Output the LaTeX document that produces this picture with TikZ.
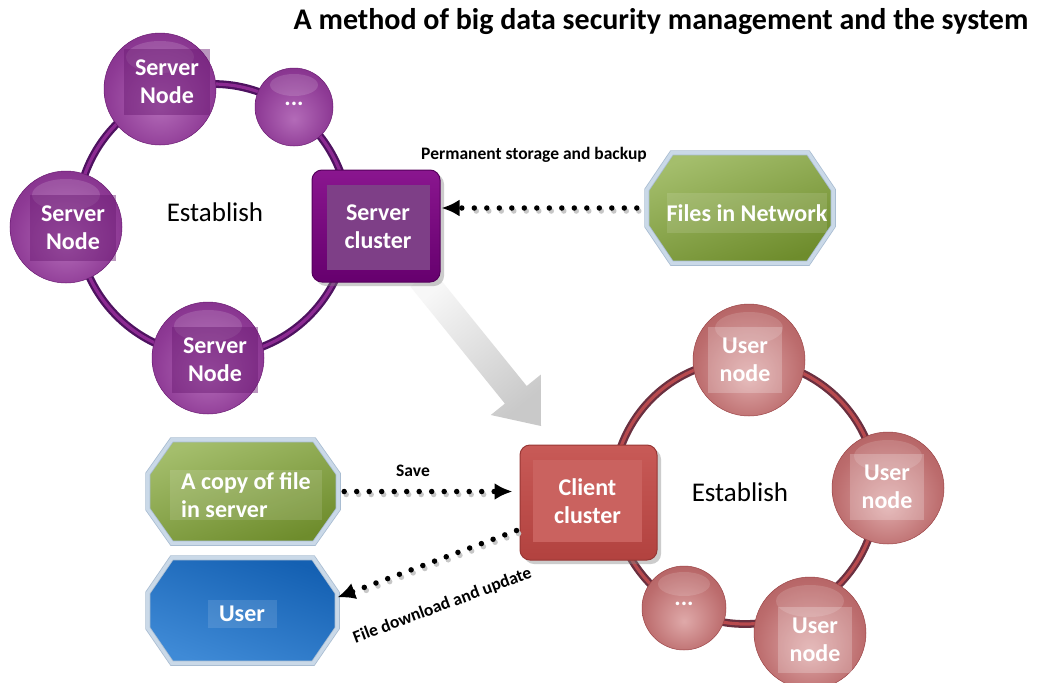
\documentclass[tikz,border=0pt]{standalone}
\usepackage{fontspec}
\setmainfont{Carlito}
\usetikzlibrary{shadows,arrows.meta,calc}
\definecolor{pbD}{HTML}{6A1A72}
\definecolor{pbM}{HTML}{8E3A95}
\definecolor{pbL}{HTML}{B36BB8}
\definecolor{rbD}{HTML}{9C4547}
\definecolor{rbM}{HTML}{BC6C6D}
\definecolor{rbL}{HTML}{DFA9A9}
\definecolor{ringP}{HTML}{4E1260}
\definecolor{ringPL}{HTML}{8C2A92}
\definecolor{ringR}{HTML}{6A3040}
\definecolor{ringRL}{HTML}{B84A4E}
\definecolor{scT}{HTML}{8A168F}
\definecolor{scB}{HTML}{66006E}
\definecolor{scE}{HTML}{55005C}
\definecolor{scI}{HTML}{7E3F87}
\definecolor{ccT}{HTML}{C85A57}
\definecolor{ccB}{HTML}{B2423F}
\definecolor{ccE}{HTML}{983735}
\definecolor{ccI}{HTML}{CA625F}
\definecolor{gT}{HTML}{A4BE6C}
\definecolor{gB}{HTML}{6E8C2C}
\definecolor{bT}{HTML}{3F8AD6}
\definecolor{bB}{HTML}{1460B2}
\definecolor{octE}{HTML}{A9BDD2}
\definecolor{octD}{HTML}{CAD9E8}
\pgfdeclareradialshading{purpleball}{\pgfpoint{0bp}{-8bp}}{color(0bp)=(pbL); color(24bp)=(pbM); color(50bp)=(pbD)}
\pgfdeclareradialshading{redball}{\pgfpoint{0bp}{-8bp}}{color(0bp)=(rbL); color(24bp)=(rbM); color(50bp)=(rbD)}
\newcommand\octpath[3]{($(#1.north west)+(#2,0)$) -- ($(#1.north east)+(-#2,0)$) -- ($(#1.north east)+(0,#3)$) -- ($(#1.south east)+(0,-#3)$) -- ($(#1.south east)+(-#2,0)$) -- ($(#1.south west)+(#2,0)$) -- ($(#1.south west)+(0,-#3)$) -- ($(#1.north west)+(0,#3)$) -- cycle}
\begin{document}
\begin{tikzpicture}[x=1pt,y=-1pt,
  lbl/.style={font=\bfseries\fontsize{24}{28}\selectfont, text=white, align=center},
  pball/.style={circle, inner sep=0pt, shading=purpleball, draw=pbD, line width=0.5pt},
  rball/.style={circle, inner sep=0pt, shading=redball, draw=rbD, line width=0.5pt},
  glare/.style={white, opacity=0.14},
  ptxt/.style={lbl, fill=pbD, fill opacity=0.45, text opacity=1, inner sep=0pt, minimum width=86pt, minimum height=66pt},
  rtxt/.style={lbl, fill=white, fill opacity=0.22, text opacity=1, inner sep=0pt, minimum width=74pt, minimum height=66pt},
  obox/.style={rectangle, inner sep=0pt},
  octo/.style={draw=octE, line width=0.8pt, double=octD, double distance=3.5pt},
  gocto/.style={octo, top color=gT, bottom color=gB, shading angle=20},
  bocto/.style={octo, top color=bB, bottom color=bT, shading angle=-20},
  otxt/.style={lbl, fill=white, fill opacity=0.12, text opacity=1, inner sep=0pt},
  dotl/.style={line width=5.5pt, line cap=round, dash pattern=on 0pt off 12.5pt},
  tip/.style={-{Latex[length=18pt,width=17pt]}},
  small/.style={font=\bfseries\fontsize{17.5}{21}\selectfont}
]
\useasboundingbox (0,0) rectangle (1037,683);
\fill[white] (0,0) rectangle (1037,683);

% title
\node[font=\bfseries\fontsize{30}{36}\selectfont] (title) at (661,22) {A method of big data security management and the system};

% rings
\node[circle, minimum size=272pt, inner sep=0pt, draw=ringP, line width=2.3pt, double=ringPL, double distance=3.2pt] (sring) at (213,220) {};
\node[circle, minimum size=264pt, inner sep=0pt, draw=ringR, line width=2.3pt, double=ringRL, double distance=3.2pt] (cring) at (745,492) {};

\node[font=\fontsize{27}{32}\selectfont] (est1) at (215,212) {Establish};
\node[font=\fontsize{27}{32}\selectfont] (est2) at (740,492) {Establish};

% gray arrow
\coordinate (gaS) at (421,278);
\coordinate (gaT) at (541,426);
\shade[top color=gray!6, bottom color=gray!42, shading angle=39]
  (432,269) -- (526.7,386) -- (540.8,374.6) -- (gaT) -- (490.8,415) -- (504.9,403.6) -- (410.4,286.6) -- cycle;

% server nodes
\node[pball, minimum size=112pt] (sn1) at (160,89) {};
\fill[glare] ($(sn1)+(0,-32)$) ellipse (34 and 16);
\node[ptxt] (sn1t) at (167,82) {Server\\Node};
\node[pball, minimum size=112pt] (sn2) at (66,227) {};
\fill[glare] ($(sn2)+(0,-32)$) ellipse (34 and 16);
\node[ptxt] (sn2t) at (73,228) {Server\\Node};
\node[pball, minimum size=112pt] (sn3) at (208,358) {};
\fill[glare] ($(sn3)+(0,-32)$) ellipse (34 and 16);
\node[ptxt] (sn3t) at (215,360) {Server\\Node};
\node[pball, minimum size=78pt] (sn4) at (294,107) {};
\fill[glare] ($(sn4)+(0,-22)$) ellipse (24 and 11);
\node[lbl] (sn4t) at (294,104) {...};

% server cluster
\node[rectangle, rounded corners=10pt, minimum width=128pt, minimum height=112pt, inner sep=0pt, top color=scT, bottom color=scB, draw=scE, line width=1pt, drop shadow={shadow xshift=4pt, shadow yshift=-4pt, opacity=0.4, fill=gray}] (sc) at (376,226) {};
\node[lbl, fill=scI, minimum width=103pt, minimum height=85pt, inner sep=0pt] (sct) at (378,227) {Server\\cluster};

% user nodes
\node[rball, minimum size=112pt] (un1) at (749,360) {};
\fill[glare] ($(un1)+(0,-32)$) ellipse (34 and 16);
\node[rtxt] (un1t) at (745,360) {User\\node};
\node[rball, minimum size=112pt] (un2) at (888,488) {};
\fill[glare] ($(un2)+(0,-32)$) ellipse (34 and 16);
\node[rtxt] (un2t) at (887,487) {User\\node};
\node[rball, minimum size=112pt] (un3) at (810,633) {};
\fill[glare] ($(un3)+(0,-32)$) ellipse (34 and 16);
\node[rtxt] (un3t) at (815,640) {User\\node};
\node[rball, minimum size=84pt] (un4) at (684,608) {};
\fill[glare] ($(un4)+(0,-24)$) ellipse (26 and 12);
\node[lbl] (un4t) at (684,604) {...};

% client cluster
\node[rectangle, rounded corners=10pt, minimum width=137pt, minimum height=115pt, inner sep=0pt, top color=ccT, bottom color=ccB, draw=ccE, line width=1pt, drop shadow={shadow xshift=4pt, shadow yshift=-4pt, opacity=0.4, fill=gray}] (cc) at (588.5,502.5) {};
\node[lbl, fill=ccI, minimum width=109pt, minimum height=82pt, inner sep=0pt] (cct) at (587.5,501) {Client\\cluster};

% octagons
\node[obox, minimum width=186pt, minimum height=110pt] (files) at (740,208) {};
\path[gocto] \octpath{files}{25}{37};
\node[otxt, minimum width=159pt, minimum height=40pt] (filest) at (747,213) {Files in Network};
\node[obox, minimum width=190pt, minimum height=103pt] (copy) at (243,491.5) {};
\path[gocto] \octpath{copy}{24}{34};
\node[otxt, minimum width=152pt, minimum height=50pt, align=left] (copyt) at (246,495) {A copy of file\\in server};
\node[obox, minimum width=189pt, minimum height=105pt] (user) at (242.5,610.5) {};
\path[bocto] \octpath{user}{24}{35};
\node[otxt, minimum width=69pt, minimum height=28pt] (usert) at (242,614) {User};

% dotted arrows
\draw[dotl, black!22, transform canvas={xshift=2pt,yshift=-3pt}, shorten <=10pt, shorten >=22pt] (files.west) -- (sc.east |- files.west);
\draw[dotl, tip, shorten <=10pt, shorten >=1pt] (files.west) -- (sc.east |- files.west);
\node[small] (plabel) at (534,155) {Permanent storage and backup};

\draw[dotl, black!22, transform canvas={xshift=2pt,yshift=-3pt}, shorten <=6pt, shorten >=28pt] (copy.east) -- (cc.west |- copy.east);
\draw[dotl, tip, shorten <=6pt, shorten >=7pt] (copy.east) -- (cc.west |- copy.east);
\node[small] (slabel) at (413,471) {Save};

\coordinate (dlS) at ($(cc.west)+(-3,28)$);
\coordinate (dlE) at ($(user.east)+(0,-13)$);
\draw[dotl, black!22, transform canvas={xshift=2pt,yshift=-3pt}, shorten >=22pt] (dlS) -- (dlE);
\draw[dotl, tip] (dlS) -- (dlE) node[small, sloped, pos=0.5, below=31pt] (dlabel) {File download and update};
\end{tikzpicture}
\end{document}
